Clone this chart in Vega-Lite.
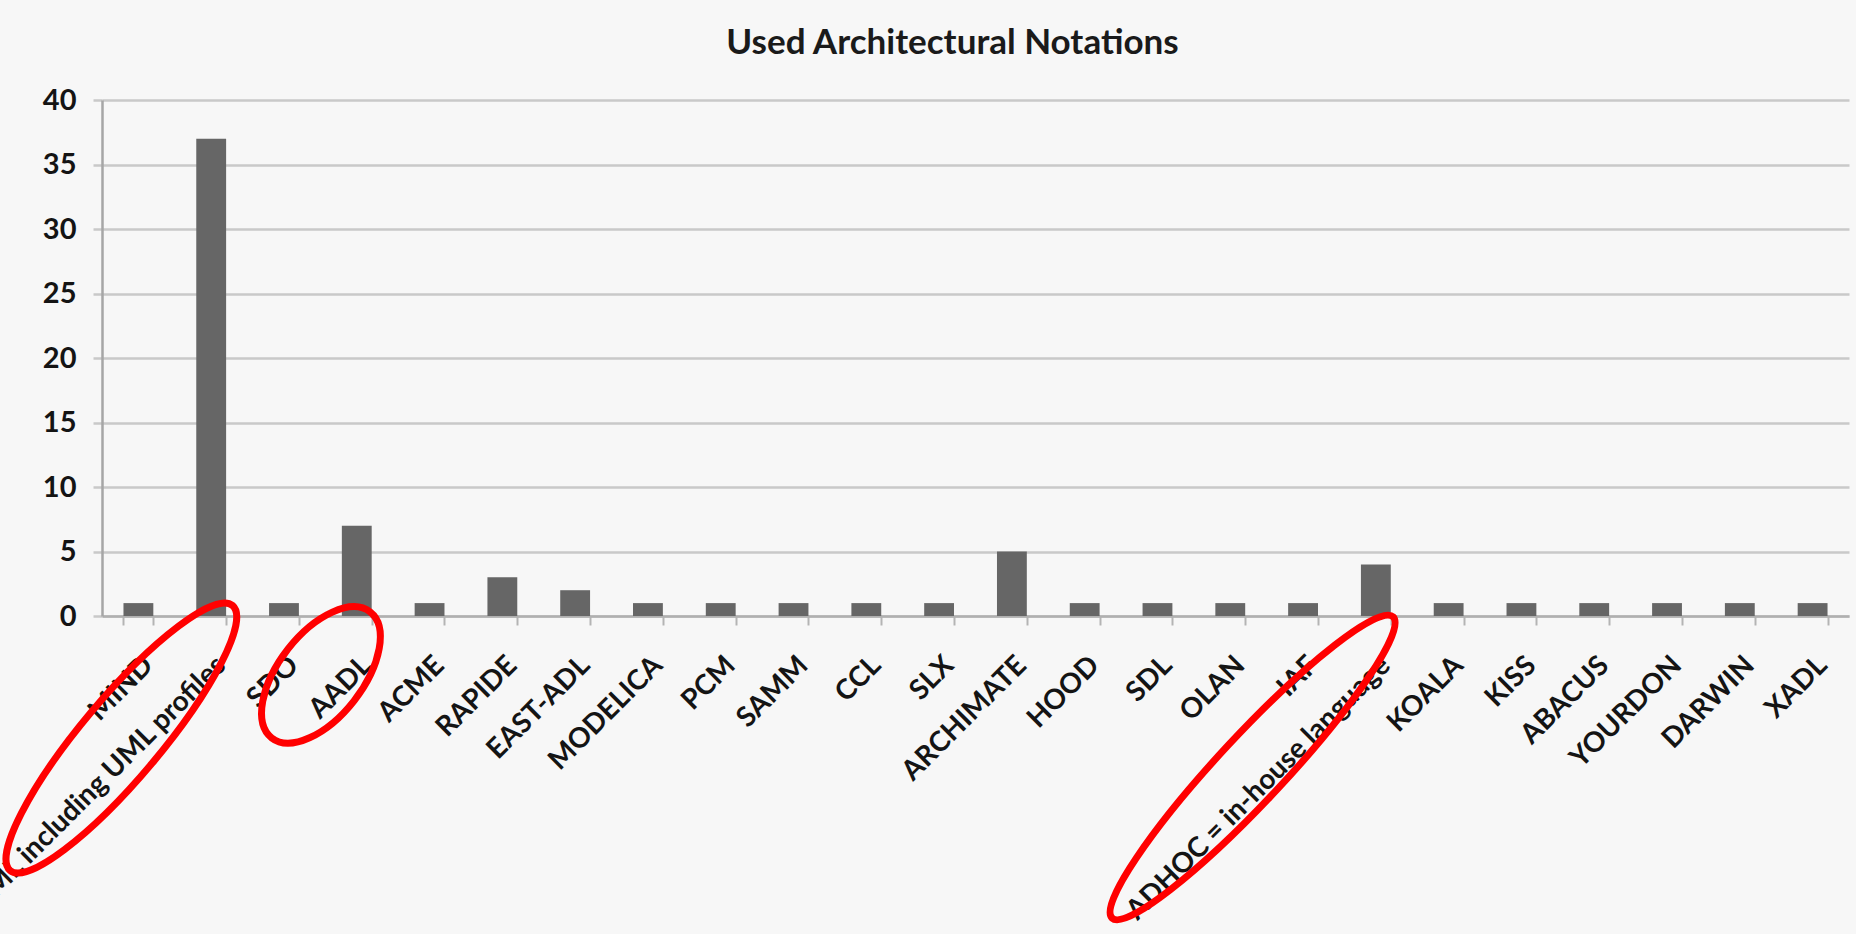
{
  "$schema": "https://vega.github.io/schema/vega-lite/v6.json",
  "autosize": {"type": "none"},
  "padding": {"left": 102, "top": 100, "right": 7, "bottom": 318},
  "width": 1747,
  "height": 516,
  "background": "#f7f7f7",
  "title": {
    "text": "Used Architectural Notations",
    "font": "Lato",
    "fontSize": 35,
    "fontWeight": "bold",
    "color": "#1a1a1a",
    "anchor": "middle",
    "frame": "group",
    "baseline": "alphabetic",
    "offset": 44,
    "dx": -23,
    "dy": 47
  },
  "datasets": {
    "notations": [
      {"notation": "MIND", "count": 1},
      {"notation": "UML including UML profiles", "count": 37, "circled": -9.46},
      {"notation": "SDO", "count": 1},
      {"notation": "AADL", "count": 7, "circled": -4.57},
      {"notation": "ACME", "count": 1},
      {"notation": "RAPIDE", "count": 3},
      {"notation": "EAST-ADL", "count": 2},
      {"notation": "MODELICA", "count": 1},
      {"notation": "PCM", "count": 1},
      {"notation": "SAMM", "count": 1},
      {"notation": "CCL", "count": 1},
      {"notation": "SLX", "count": 1},
      {"notation": "ARCHIMATE", "count": 5},
      {"notation": "HOOD", "count": 1},
      {"notation": "SDL", "count": 1},
      {"notation": "OLAN", "count": 1},
      {"notation": "IAF", "count": 1},
      {"notation": "ADHOC = in-house language", "count": 4, "circled": -11.74},
      {"notation": "KOALA", "count": 1},
      {"notation": "KISS", "count": 1},
      {"notation": "ABACUS", "count": 1},
      {"notation": "YOURDON", "count": 1},
      {"notation": "DARWIN", "count": 1},
      {"notation": "XADL", "count": 1}
    ]
  },
  "data": {"name": "notations"},
  "layer": [
    {
      "mark": {"type": "bar", "color": "#666666"},
      "encoding": {
        "x": {
          "field": "notation",
          "type": "nominal",
          "sort": null,
          "scale": {"paddingInner": 0.59, "paddingOuter": 0.295},
          "axis": {
            "title": null,
            "labelAngle": -45,
            "labelFont": "Lato",
            "labelFontSize": 28,
            "labelFontWeight": "bold",
            "labelColor": "#141414",
            "labelLimit": 0,
            "labelOverlap": false,
            "labelPadding": 26,
            "tickBand": "extent",
            "tickSize": 9,
            "tickColor": "#b4b4b4",
            "tickWidth": 2,
            "domainColor": "#b0b0b0",
            "domainWidth": 2.5,
            "grid": false
          }
        },
        "y": {
          "field": "count",
          "type": "quantitative",
          "scale": {"domain": [0, 40], "nice": false},
          "axis": {
            "title": null,
            "values": [0, 5, 10, 15, 20, 25, 30, 35, 40],
            "labelFont": "Lato",
            "labelFontSize": 29,
            "labelFontWeight": "bold",
            "labelColor": "#141414",
            "labelPadding": 17,
            "tickSize": 9,
            "tickColor": "#c9c9c9",
            "tickWidth": 2.5,
            "domainColor": "#a6a6a6",
            "domainWidth": 2.5,
            "grid": true,
            "gridColor": "#c9c9c9",
            "gridWidth": 2.5
          }
        }
      }
    },
    {
      "transform": [{"filter": "datum.notation === 'UML including UML profiles'"}],
      "mark": {
        "type": "point",
        "shape": "M1,0C1,0.127 0.552,0.23 0,0.23C-0.552,0.23 -1,0.127 -1,0C-1,-0.127 -0.552,-0.23 0,-0.23C0.552,-0.23 1,-0.127 1,0Z",
        "size": 119716,
        "angle": -50,
        "filled": false,
        "color": "#ff0000",
        "strokeWidth": 7,
        "opacity": 1
      },
      "encoding": {
        "x": {"field": "notation", "type": "nominal", "sort": null, "bandPosition": -2.51},
        "y": {"field": "circled", "type": "quantitative"}
      }
    },
    {
      "transform": [{"filter": "datum.notation === 'AADL'"}],
      "mark": {
        "type": "point",
        "shape": "M1,0C1,0.29 0.552,0.525 0,0.525C-0.552,0.525 -1,0.29 -1,0C-1,-0.29 -0.552,-0.525 0,-0.525C0.552,-0.525 1,-0.29 1,0Z",
        "size": 25600,
        "angle": -52,
        "filled": false,
        "color": "#ff0000",
        "strokeWidth": 7,
        "opacity": 1
      },
      "encoding": {
        "x": {"field": "notation", "type": "nominal", "sort": null, "bandPosition": -0.7},
        "y": {"field": "circled", "type": "quantitative"}
      }
    },
    {
      "transform": [{"filter": "datum.notation === 'ADHOC = in-house language'"}],
      "mark": {
        "type": "point",
        "shape": "M1,0C1,0.088 0.552,0.16 0,0.16C-0.552,0.16 -1,0.088 -1,0C-1,-0.088 -0.552,-0.16 0,-0.16C0.552,-0.16 1,-0.088 1,0Z",
        "size": 169744,
        "angle": -47,
        "filled": false,
        "color": "#ff0000",
        "strokeWidth": 7,
        "opacity": 1
      },
      "encoding": {
        "x": {"field": "notation", "type": "nominal", "sort": null, "bandPosition": -3.63},
        "y": {"field": "circled", "type": "quantitative"}
      }
    }
  ],
  "config": {
    "view": {"stroke": null}
  }
}
